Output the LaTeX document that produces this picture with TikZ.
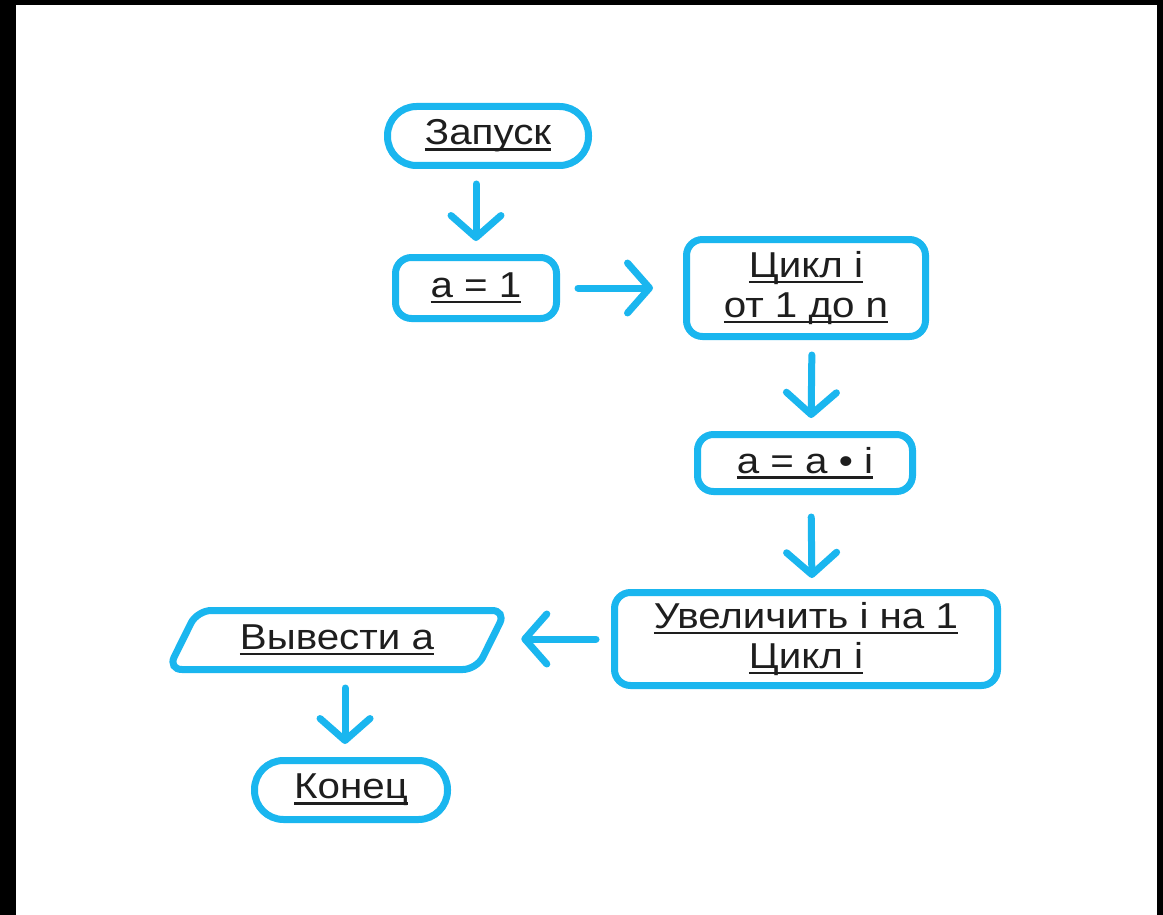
\documentclass[tikz,border=0pt]{standalone}
\usepackage{fontspec}
\setmainfont[FakeStretch=1.12]{Liberation Sans}
\usepackage{tikz}
\usetikzlibrary{arrows.meta,shapes.geometric}

\definecolor{flowblue}{HTML}{1AB6EF}
\definecolor{ink}{HTML}{1E1E1E}
\newcommand{\ulined}[1]{\setbox0\hbox{#1}\rlap{\rule[-6pt]{\wd0}{2.6pt}}\box0}

\begin{document}
\begin{tikzpicture}[x=1pt,y=-1pt]
        \tikzstyle{every node} = [draw=flowblue, line width=7pt, text=ink, align=center,
            font=\fontsize{36}{40}\selectfont]
        \tikzstyle{term} = [rectangle, rounded corners=29pt, minimum height=59pt]
        \tikzstyle{box} = [rectangle, rounded corners=16pt]
        \tikzstyle{io} = [trapezium, trapezium left angle=52, trapezium right angle=128,
            trapezium stretches body, rounded corners=14pt, minimum width=338pt, minimum height=59pt]
        \tikzstyle{flow} = [draw=flowblue, line width=7pt, line cap=round,
            -{Straight Barb[length=22pt,width=50pt,round]}, shorten <=15pt, shorten >=13pt]
        % page frame
        \useasboundingbox (0,0) rectangle (1163,915);
        \fill[black] (0,0) rectangle (1163,915);
        \fill[white] (16,5) rectangle (1157,915);
        % blocks
        \node[term, minimum width=201pt] (start) at (488,136) {\ulined{Запуск}};
        \node[box, minimum width=161pt, minimum height=61pt] (a1) at (476,288) {\ulined{a = 1}};
        \node[box, minimum width=239pt, minimum height=97pt] (loop) at (806,288) {\ulined{Цикл i}\\\ulined{от 1 до n}};
        \node[box, minimum width=215pt, minimum height=57pt] (mult) at (805,463) {\ulined{a = a • i}};
        \node[box, minimum width=383pt, minimum height=93pt] (incr) at (806,639) {\ulined{Увеличить i на 1}\\\ulined{Цикл i}};
        \node[io] (out) at (337,640) {\ulined{Вывести a}};
        \node[term, minimum width=193pt] (end) at (351,790) {\ulined{Конец}};
        % connectors
        \draw[flow] (start.south -| a1.north) -- (a1.north);
        \draw[flow, shorten <=18pt, shorten >=30pt] (a1.east) -- (loop.west);
        \draw[flow] ([xshift=6pt]loop.south) -- ([xshift=6pt]mult.north);
        \draw[flow, shorten <=22pt, shorten >=11pt] ([xshift=6pt]mult.south) -- ([xshift=6pt]incr.north);
        \draw[flow, shorten >=26pt] (incr.west) -- (incr.west -| out.east);
        \draw[flow] ([xshift=8pt]out.south) -- ([xshift=8pt]out.south |- end.north);
\end{tikzpicture}
\end{document}
